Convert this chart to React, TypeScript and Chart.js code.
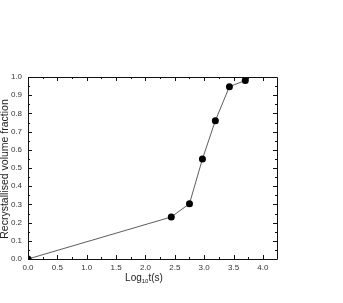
import React, { useEffect, useRef } from "react";
import { Chart, registerables } from "chart.js";

Chart.register(...registerables);

const logTime = [0, 2.44, 2.75, 2.97, 3.19, 3.43, 3.7];
const fraction = [0, 0.231, 0.304, 0.549, 0.76, 0.947, 0.981];
const xTicks = [0, 0.5, 1.0, 1.5, 2.0, 2.5, 3.0, 3.5, 4.0];
const yTicks = [0, 0.1, 0.2, 0.3, 0.4, 0.5, 0.6, 0.7, 0.8, 0.9, 1.0];
const xMinor = [0.25, 0.75, 1.25, 1.75, 2.25, 2.75, 3.25, 3.75, 4.25];
const yMinor = [0.05, 0.15, 0.25, 0.35, 0.45, 0.55, 0.65, 0.75, 0.85, 0.95];
const yTitle = "Recrystallised volume fraction";
const xTitleMain = "Log";
const xTitleSub = "10";
const xTitleRest = "t(s)";

const FONT = "'Liberation Sans', Arial, sans-serif";

const framePlugin = {
  id: "frameTicks",
  afterDatasetsDraw(chart: any) {
    const { ctx, chartArea: a, scales } = chart;
    const x = scales.x;
    const y = scales.y;
    ctx.save();
    ctx.strokeStyle = "#111";
    ctx.lineWidth = 1;
    ctx.beginPath();
    ctx.rect(Math.round(a.left) + 0.5, Math.round(a.top) + 0.5, Math.round(a.right - a.left), Math.round(a.bottom - a.top));
    ctx.stroke();
    const drawX = (vals: number[], len: number) => {
      vals.forEach((v) => {
        const px = Math.round(x.getPixelForValue(v)) + 0.5;
        if (px < a.left || px > a.right) return;
        ctx.beginPath();
        ctx.moveTo(px, a.bottom);
        ctx.lineTo(px, a.bottom - len);
        ctx.moveTo(px, a.top);
        ctx.lineTo(px, a.top + len);
        ctx.stroke();
      });
    };
    const drawY = (vals: number[], len: number) => {
      vals.forEach((v) => {
        const py = Math.round(y.getPixelForValue(v)) + 0.5;
        ctx.beginPath();
        ctx.moveTo(a.left, py);
        ctx.lineTo(a.left + len, py);
        ctx.moveTo(a.right, py);
        ctx.lineTo(a.right - len, py);
        ctx.stroke();
      });
    };
    drawX(xTicks, 4);
    drawX(xMinor, 2);
    drawY(yTicks, 4);
    drawY(yMinor, 2);

    // titles
    ctx.fillStyle = "#222";
    ctx.textBaseline = "middle";
    ctx.textAlign = "center";
    ctx.font = `10.5px ${FONT}`;
    ctx.save();
    ctx.translate(5.5, 169);
    ctx.rotate(-Math.PI / 2);
    ctx.fillText(yTitle, 0, 0);
    ctx.restore();

    ctx.textAlign = "left";
    ctx.font = `10px ${FONT}`;
    const w1 = ctx.measureText(xTitleMain).width;
    const w3 = ctx.measureText(xTitleRest).width;
    ctx.font = `6px ${FONT}`;
    const w2 = ctx.measureText(xTitleSub).width;
    const total = w1 + w2 + w3;
    let sx = 144 - total / 2;
    const ty = 278;
    ctx.font = `10px ${FONT}`;
    ctx.fillText(xTitleMain, sx, ty);
    sx += w1;
    ctx.font = `6px ${FONT}`;
    ctx.fillText(xTitleSub, sx, ty + 3.5);
    sx += w2;
    ctx.font = `10px ${FONT}`;
    ctx.fillText(xTitleRest, sx, ty);
    ctx.restore();
  },
};

export default function App() {
  const ref = useRef<HTMLCanvasElement>(null);
  useEffect(() => {
    document.body.style.margin = "0";
    const chart = new Chart(ref.current as HTMLCanvasElement, {
      type: "scatter",
      data: {
        datasets: [
          {
            data: logTime.map((v, i) => ({ x: v, y: fraction[i] })),
            showLine: true,
            borderColor: "#333",
            borderWidth: 0.8,
            backgroundColor: "#000",
            pointBackgroundColor: "#000",
            pointBorderColor: "#000",
            pointRadius: 3.5,
            pointBorderWidth: 0,
            clip: 0,
          } as any,
        ],
      },
      options: {
        animation: false,
        responsive: false,
        maintainAspectRatio: false,
        events: [],
        layout: { padding: { left: 0, top: 77, right: 66, bottom: 0 } },
        plugins: { legend: { display: false }, tooltip: { enabled: false } },
        scales: {
          x: {
            type: "linear",
            min: 0,
            max: 4.24,
            grid: { display: false, drawTicks: false },
            border: { display: false },
            afterBuildTicks: (s: any) => {
              s.ticks = xTicks.map((v) => ({ value: v }));
            },
            afterFit: (s: any) => {
              s.height = 44;
            },
            ticks: {
              padding: 4,
              maxRotation: 0,
              autoSkip: false,
              color: "#333",
              font: { family: FONT, size: 8 },
              callback: (v: any) => Number(v).toFixed(1),
            },
          },
          y: {
            type: "linear",
            min: 0,
            max: 1,
            grid: { display: false, drawTicks: false },
            border: { display: false },
            afterBuildTicks: (s: any) => {
              s.ticks = yTicks.map((v) => ({ value: v }));
            },
            afterFit: (s: any) => {
              s.width = 28;
            },
            ticks: {
              padding: 6,
              autoSkip: false,
              color: "#333",
              font: { family: FONT, size: 8 },
              callback: (v: any) => Number(v).toFixed(1),
            },
          },
        },
      },
      plugins: [framePlugin],
    });
    return () => chart.destroy();
  }, []);
  return (
    <div style={{ width: 343, height: 303, background: "#fff" }}>
      <canvas ref={ref} width={343} height={303} style={{ display: "block" }} />
    </div>
  );
}
